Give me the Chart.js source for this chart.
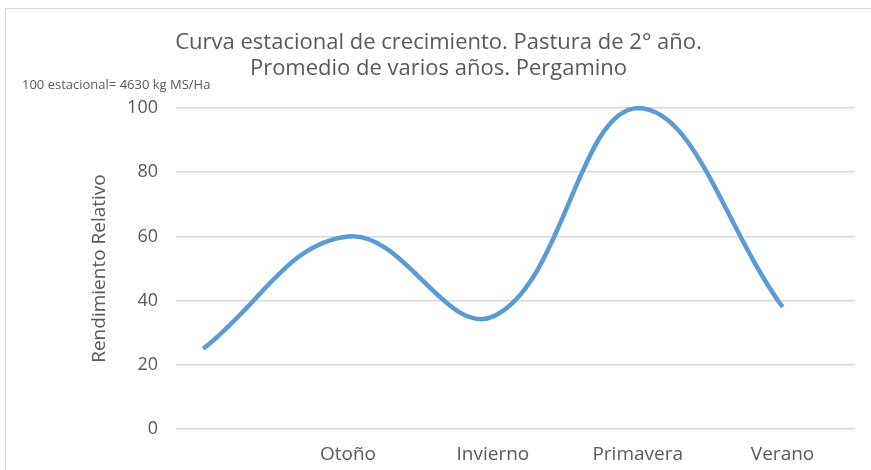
<!DOCTYPE html>
<html lang="es">
<head>
    <meta charset="UTF-8">
    <title>Curva estacional de crecimiento</title>
    <style>
        body { margin: 0; background: #fff; }
        #chartBox { width: 871px; height: 470px; position: relative; }
    </style>
</head>
<body>
    <div id="chartBox"><canvas id="myChart"></canvas></div>

    <script src="https://cdn.jsdelivr.net/npm/chart.js"></script>

    <script>
// datos
const seasons = ['', 'Otoño', 'Invierno', 'Primavera', 'Verano'];
const rendimiento = [25, 60, 35, 100, 38];
const yTicks = [0, 20, 40, 60, 80, 100];

const titleLines = ['Curva estacional de crecimiento. Pastura de 2° año.', 'Promedio de varios años. Pergamino'];
const noteText = '100 estacional= 4630 kg MS/Ha';
const yTitle = 'Rendimiento Relativo';

const grey = '#595959';
const fontFam = "'Open Sans', 'Noto Sans', sans-serif";

// marco gris del area del grafico (solo se ve arriba e izquierda) + nota chica
const frame = {
  id: 'frame',
  beforeDraw(chart) {
    const c = chart.ctx;
    c.save();
    c.strokeStyle = '#d9d9d9';
    c.lineWidth = 1;
    c.strokeRect(5.5, 8.5, 1000, 1000);
    c.fillStyle = grey;
    c.font = '13px ' + fontFam;
    c.textBaseline = 'middle';
    c.textAlign = 'left';
    c.fillText(noteText, 22, 85);
    c.restore();
  }
};

const ctx = document.getElementById('myChart');
new Chart(ctx, {
  type: 'line',
  data: {
    datasets: [{
      data: rendimiento.map((v, i) => ({ x: i, y: v })),
      borderColor: '#5B9BD5',
      borderWidth: 4.5,
      pointRadius: 0,
      tension: 0.4,
      fill: false,
      clip: false
    }]
  },
  plugins: [frame],
  options: {
    responsive: true,
    maintainAspectRatio: false,
    animation: false,
    layout: { padding: { left: 22, right: 16, top: 0, bottom: 0 } },
    plugins: {
      legend: { display: false },
      tooltip: { enabled: false },
      title: {
        display: true,
        text: titleLines,
        color: grey,
        font: { family: fontFam, size: 22, weight: 'normal', lineHeight: 26 / 22 },
        padding: { top: 30, bottom: 26 }
      }
    },
    scales: {
      x: {
        type: 'linear',
        min: -0.07,
        max: 4.5,
        afterBuildTicks: (scale) => {
          scale.ticks = seasons.map((s, i) => ({ value: i }));
        },
        afterFit: (scale) => { scale.height = 41; },
        ticks: {
          color: grey,
          font: { family: fontFam, size: 19 },
          padding: 6,
          maxRotation: 0,
          autoSkip: false,
          callback: (v) => seasons[v] ?? ''
        },
        grid: { display: false },
        border: { display: false }
      },
      y: {
        min: 0,
        max: 100,
        afterBuildTicks: (scale) => {
          scale.ticks = yTicks.map(v => ({ value: v }));
        },
        afterFit: (scale) => { scale.width = 171; },
        ticks: {
          color: grey,
          font: { family: fontFam, size: 18 },
          padding: 18
        },
        grid: { color: '#d9d9d9', lineWidth: 1.5, tickLength: 17 },
        border: { display: false },
        title: {
          display: true,
          text: yTitle,
          color: grey,
          font: { family: fontFam, size: 19 },
          padding: { top: 66, bottom: 0 }
        }
      }
    }
  }
});
    </script>
</body>
</html>
